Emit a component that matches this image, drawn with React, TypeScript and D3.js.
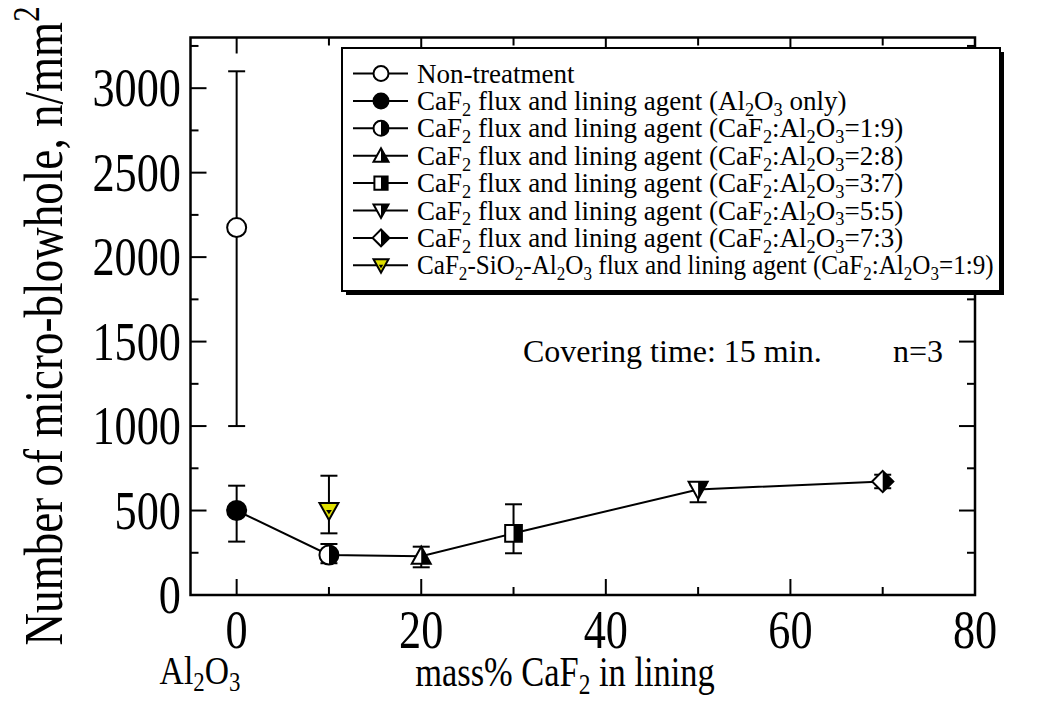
import React from "react";
import * as d3 from "d3";

// ---------- data ----------
const legendLabels = [
  "Non-treatment",
  "CaF_{2} flux and lining agent (Al_{2}O_{3} only)",
  "CaF_{2} flux and lining agent (CaF_{2}:Al_{2}O_{3}=1:9)",
  "CaF_{2} flux and lining agent (CaF_{2}:Al_{2}O_{3}=2:8)",
  "CaF_{2} flux and lining agent (CaF_{2}:Al_{2}O_{3}=3:7)",
  "CaF_{2} flux and lining agent (CaF_{2}:Al_{2}O_{3}=5:5)",
  "CaF_{2} flux and lining agent (CaF_{2}:Al_{2}O_{3}=7:3)",
  "CaF_{2}-SiO_{2}-Al_{2}O_{3} flux and lining agent (CaF_{2}:Al_{2}O_{3}=1:9)",
];
const markerKinds = ["circleOpen", "circleFilled", "circleHalf", "triUpHalf", "squareHalf", "triDownHalf", "diamondHalf", "triDownYellow"];
const pointX = [0, 0, 10, 20, 30, 50, 70, 10];
const pointY = [2175, 500, 237, 230, 365, 625, 672, 500];
const errLow = [1000, 316, 188, 164, 247, 549, 632, 365];
const errHigh = [3100, 647, 302, 286, 537, 650, 712, 706];
const lineIdx = [1, 2, 3, 4, 5, 6];

const xMajor = [0, 20, 40, 60, 80];
const xMinor = [10, 30, 50, 70];
const yMajor = [0, 500, 1000, 1500, 2000, 2500, 3000];
const yMinor = [250, 750, 1250, 1750, 2250, 2750, 3250];

// ---------- layout ----------
const W = 1063, H = 701;
const L = 190.5, R = 975, T = 37.5, B = 595;
const x = d3.scaleLinear().domain([-5, 80]).range([L, R]);
const y = d3.scaleLinear().domain([0, 3300]).range([B, T]);
const FONT = "'Liberation Serif', 'Times New Roman', serif";

function Rich({ s, size, sub = 0.28 }: { s: string; size: number; sub?: number }) {
  const parts = s.split(/(_\{[^}]*\}|\^\{[^}]*\})/).filter((p) => p.length);
  const out: any[] = [];
  let shift = 0;
  parts.forEach((p, i) => {
    if (p.startsWith("_{") || p.startsWith("^{")) {
      const t = p.slice(2, -1);
      const d = p[0] === "_" ? size * sub : -size * 0.42;
      out.push(
        <tspan key={i} dy={d - shift} fontSize={size * 0.68}>{t}</tspan>
      );
      shift = d;
    } else {
      out.push(
        <tspan key={i} dy={-shift} fontSize={size}>{p}</tspan>
      );
      shift = 0;
    }
  });
  return <>{out}</>;
}

function Marker({ kind, s }: { kind: string; s: number }) {
  let d = "";
  if (kind.startsWith("circle")) {
    d = d3.arc()({ innerRadius: 0, outerRadius: s, startAngle: 0, endAngle: 2 * Math.PI }) as string;
  } else if (kind === "triUpHalf") {
    d = `M${-s},${s * 0.8}L${s},${s * 0.8}L0,${-s * 1.0}Z`;
  } else if (kind.startsWith("triDown")) {
    d = `M${-s},${-s * 0.8}L${s},${-s * 0.8}L0,${s * 1.0}Z`;
  } else if (kind === "squareHalf") {
    const h = s * 0.88;
    d = `M${-h},${-h}L${h},${-h}L${h},${h}L${-h},${h}Z`;
  } else if (kind === "diamondHalf") {
    const h = s * 1.12;
    d = `M0,${-h}L${h},0L0,${h}L${-h},0Z`;
  }
  if (kind === "circleOpen") return <path d={d} fill="#fff" stroke="#000" strokeWidth={2} />;
  if (kind === "circleFilled") return <path d={d} fill="#000" stroke="#000" strokeWidth={2} />;
  if (kind === "triDownYellow") {
    const k = s * 0.3;
    const inner = `M${-k},${-k * 0.2}L${k},${-k * 0.2}L0,${k * 1.3}Z`;
    return (
      <g>
        <path d={d} fill="#e0e000" stroke="#000" strokeWidth={2} />
        <path d={inner} fill="#000" />
      </g>
    );
  }
  return (
    <g>
      <path d={d} fill="#fff" />
      <path d={d} fill="#000" clipPath="url(#rightHalf)" />
      <path d={d} fill="none" stroke="#000" strokeWidth={2} />
    </g>
  );
}

export default function App() {
  const line = d3.line<number>().x((i) => x(pointX[i])).y((i) => y(pointY[i]));
  const legX = 342, legY = 48, legW = 658, legH = 243;
  const rowY = (i: number) => 73.5 + i * 27.4;
  const axisSize = 54;
  const sq = 0.82;
  return (
    <svg width={W} height={H} style={{ position: "absolute", left: 0, top: 0, background: "#fff" }} fontFamily={FONT}>
      <defs>
        <clipPath id="rightHalf" clipPathUnits="userSpaceOnUse">
          <rect x={0} y={-50} width={50} height={100} />
        </clipPath>
      </defs>
      <rect x={0} y={0} width={W} height={H} fill="#fff" />

      {/* ticks */}
      <g stroke="#000" strokeWidth={2}>
        {xMajor.map((v) => (
          <g key={"xM" + v}>
            <line x1={x(v)} x2={x(v)} y1={B} y2={B - 16} />
            <line x1={x(v)} x2={x(v)} y1={T} y2={T + 16} />
          </g>
        ))}
        {xMinor.map((v) => (
          <g key={"xm" + v}>
            <line x1={x(v)} x2={x(v)} y1={B} y2={B - 8} />
            <line x1={x(v)} x2={x(v)} y1={T} y2={T + 8} />
          </g>
        ))}
        {yMajor.map((v) => (
          <g key={"yM" + v}>
            <line x1={L} x2={L + 16} y1={y(v)} y2={y(v)} />
            <line x1={R} x2={R - 16} y1={y(v)} y2={y(v)} />
          </g>
        ))}
        {yMinor.map((v) => (
          <g key={"ym" + v}>
            <line x1={L} x2={L + 8} y1={y(v)} y2={y(v)} />
            <line x1={R} x2={R - 8} y1={y(v)} y2={y(v)} />
          </g>
        ))}
      </g>
      <rect x={L} y={T} width={R - L} height={B - T} fill="none" stroke="#000" strokeWidth={2.5} />

      {/* tick labels */}
      {xMajor.map((v) => (
        <text key={"xl" + v} transform={`translate(${x(v)},648) scale(${sq},1)`} textAnchor="middle" fontSize={axisSize} fill="#000">
          {v}
        </text>
      ))}
      {yMajor.map((v) => (
        <text key={"yl" + v} transform={`translate(181,${y(v) + 18}) scale(${sq},1)`} textAnchor="end" fontSize={axisSize} fill="#000">
          {v}
        </text>
      ))}

      {/* axis titles */}
      <text transform={`translate(62,326) rotate(-90) scale(${sq},1)`} textAnchor="middle" fontSize={55} fill="#000">
        <Rich s="Number of micro-blowhole, n/mm^{2}" size={55} />
      </text>
      <text transform={`translate(565,686) scale(${sq},1)`} textAnchor="middle" fontSize={42} fill="#000">
        <Rich s="mass% CaF_{2} in lining" size={42} sub={0.18} />
      </text>
      <text transform={`translate(200,684) scale(${sq},1)`} textAnchor="middle" fontSize={41} fill="#000">
        <Rich s="Al_{2}O_{3}" size={41} sub={0.18} />
      </text>

      {/* annotation */}
      <text x={523} y={362} fontSize={32} fill="#000">Covering time: 15 min.</text>
      <text x={893} y={362} fontSize={32} fill="#000">n=3</text>

      {/* connecting line */}
      <path d={line(lineIdx) as string} fill="none" stroke="#000" strokeWidth={2} />

      {/* error bars */}
      <g stroke="#000" strokeWidth={2}>
        {pointX.map((px, i) => (
          <g key={"e" + i}>
            <line x1={x(px)} x2={x(px)} y1={y(errLow[i])} y2={y(errHigh[i])} />
            <line x1={x(px) - 8.5} x2={x(px) + 8.5} y1={y(errLow[i])} y2={y(errLow[i])} />
            <line x1={x(px) - 8.5} x2={x(px) + 8.5} y1={y(errHigh[i])} y2={y(errHigh[i])} />
          </g>
        ))}
      </g>

      {/* markers */}
      {pointX.map((px, i) => (
        <g key={"m" + i} transform={`translate(${x(px)},${y(pointY[i])})`}>
          <Marker kind={markerKinds[i]} s={9.5} />
        </g>
      ))}

      {/* legend */}
      <rect x={legX + 4} y={legY + 4} width={legW} height={legH} fill="#000" />
      <rect x={legX} y={legY} width={legW} height={legH} fill="#fff" stroke="#000" strokeWidth={2} />
      {legendLabels.map((lab, i) => (
        <g key={"lg" + i}>
          <line x1={353} x2={408} y1={rowY(i)} y2={rowY(i)} stroke="#000" strokeWidth={2} />
          <g transform={`translate(381,${rowY(i)})`}>
            <Marker kind={markerKinds[i]} s={7.5} />
          </g>
          <text
            transform={`translate(417,${rowY(i) + 9}) scale(${i === legendLabels.length - 1 ? 0.93 : 1},1)`}
            fontSize={27}
            fill="#000"
          >
            <Rich s={lab} size={27} sub={0.22} />
          </text>
        </g>
      ))}
    </svg>
  );
}
